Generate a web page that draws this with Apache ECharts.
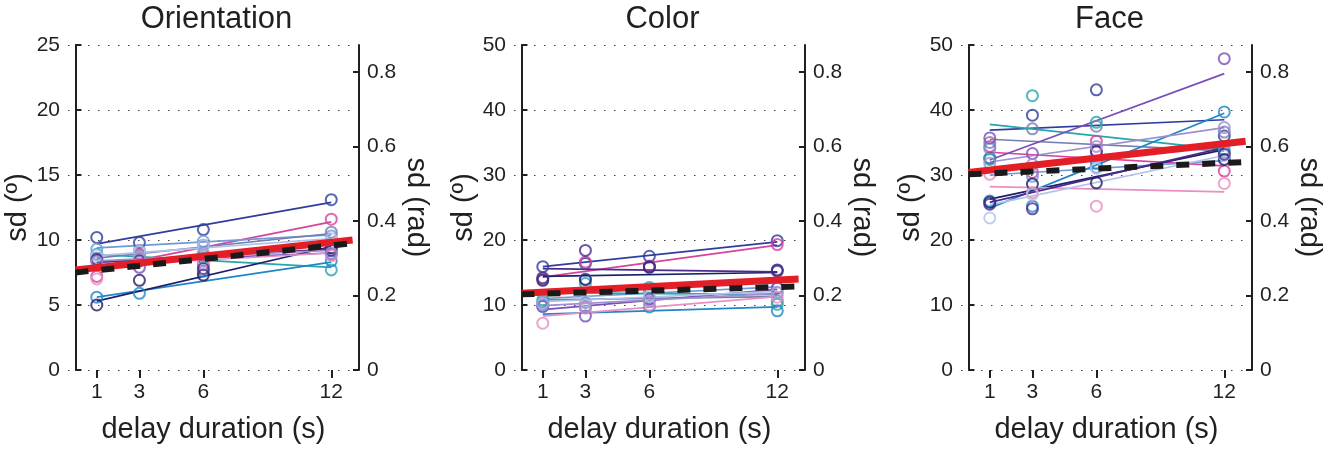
<!DOCTYPE html>
<html>
<head>
<meta charset="utf-8">
<script src="https://cdn.jsdelivr.net/npm/echarts@6/dist/echarts.min.js"></script>
<style>
html,body{margin:0;padding:0;background:#fff;}
#chart{width:1334px;height:449px;}
</style>
</head>
<body>
<div id="chart"></div>
<script>
// ---------- data ----------
const delays = [1, 3, 6, 12];
const fitX = [1, 12];
const groupX = [0, 13];
const panelTitles = ['Orientation', 'Color', 'Face'];
const xTicks = [1, 3, 6, 12];
const radTicks = [0, 0.2, 0.4, 0.6, 0.8];
const leftMax = [25, 50, 50];
const leftInterval = [5, 10, 10];
const radPerUnit = [Math.PI / 90, Math.PI / 180, Math.PI / 180];

const subjectColors = ['#2f3e9e', '#d6449c', '#6f9ad8', '#7480b0', '#26a5ad', '#1f86c8',
  '#1c1f6a', '#7b4fb8', '#e98fc2', '#b3c3e8', '#4b2a8c', '#9e8ed0'];

// Orientation: sd (deg) at delays 1,3,6,12 per subject
const oriPoints = [
  [10.2, 9.8, 10.8, 13.1],
  [7.2, 8.9, 8.8, 11.6],
  [9.3, 9.2, 9.9, 10.3],
  [8.6, 8.8, 9.6, 10.6],
  [8.9, 8.7, 8.6, 7.7],
  [5.6, 5.9, 7.6, 8.4],
  [5.0, 6.9, 7.3, 9.4],
  [8.4, 7.9, 8.1, 8.9],
  [7.0, 8.7, 8.3, 8.8],
  [8.8, 9.1, 9.6, 10.1],
  [8.5, 8.4, 7.8, 9.2],
  [8.3, 8.6, 9.0, 9.0]
];
const oriFits = [
  [9.7, 12.9], [7.8, 11.4], [9.4, 10.4], [8.6, 10.5], [8.9, 7.9], [5.6, 8.3],
  [5.3, 9.5], [8.3, 9.0], [8.0, 9.0], [8.8, 10.1], [8.3, 9.3], [8.4, 9.2]
];
const oriRed = [7.7, 10.0];
const oriBlack = [7.5, 9.75];

// Color
const colPoints = [
  [15.9, 16.4, 17.5, 19.9],
  [14.0, 16.6, 16.0, 19.3],
  [10.5, 14.0, 12.0, 12.6],
  [10.3, 10.4, 11.0, 10.6],
  [10.8, 13.3, 12.7, 10.1],
  [9.8, 9.6, 9.7, 9.1],
  [13.8, 13.9, 15.8, 15.4],
  [9.8, 8.3, 10.9, 12.6],
  [7.2, 9.5, 10.0, 11.2],
  [10.2, 10.6, 11.3, 12.0],
  [14.2, 18.4, 15.9, 15.2],
  [10.0, 9.8, 10.6, 11.9]
];
const colFits = [
  [15.9, 19.7], [14.3, 19.2], [11.0, 12.8], [10.8, 11.3], [11.9, 11.6], [8.6, 9.7],
  [14.4, 15.0], [9.3, 12.4], [8.3, 11.3], [10.5, 12.1], [15.6, 15.1], [9.9, 11.8]
];
const colRed = [11.8, 14.0];
const colBlack = [11.65, 12.85];

// Face
const facePoints = [
  [32.6, 39.2, 43.1, 36.0],
  [34.4, 30.4, 35.2, 30.6],
  [34.0, 29.8, 31.2, 33.5],
  [35.0, 37.1, 37.5, 36.6],
  [32.4, 42.2, 38.1, 33.9],
  [26.0, 25.2, 31.8, 39.7],
  [25.8, 28.6, 28.8, 32.4],
  [35.7, 33.3, 33.6, 47.9],
  [30.1, 27.3, 25.2, 28.7],
  [23.4, 27.0, 31.0, 33.0],
  [25.5, 24.8, 33.6, 33.2],
  [31.8, 31.6, 34.4, 37.3]
];
const faceFits = [
  [36.9, 38.5], [33.5, 31.4], [30.0, 32.2], [35.5, 33.7], [37.8, 33.9], [24.9, 39.5],
  [26.3, 33.9], [32.3, 45.6], [28.2, 27.4], [25.4, 33.0], [25.8, 34.2], [32.0, 37.3]
];
const faceRed = [30.4, 35.2];
const faceBlack = [30.1, 32.0];

const panelPoints = [oriPoints, colPoints, facePoints];
const panelFits = [oriFits, colFits, faceFits];
const panelRed = [oriRed, colRed, faceRed];
const panelBlack = [oriBlack, colBlack, faceBlack];

// ---------- layout / style ----------
const FONT = '"Liberation Sans", Arial, Helvetica, sans-serif';
const INK = '#231f20';
const gridLefts = [68, 514, 961];
const GW = 291, GT = 45, GH = 326;

const grids = [], xAxes = [], yAxes = [], titles = [], series = [];

for (let p = 0; p < 3; p++) {
  grids.push({ left: gridLefts[p], top: GT, width: GW, height: GH });
  titles.push({
    text: panelTitles[p], left: gridLefts[p] + GW / 2 + 3, top: 4, textAlign: 'center', padding: 0,
    textStyle: { fontFamily: FONT, fontSize: 31, fontWeight: 'normal', color: INK }
  });
  xAxes.push({
    gridIndex: p, type: 'value', min: -0.35, max: 13.3,
    axisLine: { show: false },
    axisTick: { show: true, customValues: xTicks, length: 8, inside: false, lineStyle: { color: INK, width: 2 } },
    axisLabel: { customValues: xTicks, margin: 12, fontFamily: FONT, fontSize: 21, color: INK },
    splitLine: { show: false },
    name: 'delay duration (s)', nameLocation: 'middle', nameGap: 45,
    nameTextStyle: { fontFamily: FONT, fontSize: 29, color: INK }
  });
  yAxes.push({
    gridIndex: p, type: 'value', position: 'left', min: 0, max: leftMax[p], interval: leftInterval[p],
    axisLine: { show: true, lineStyle: { color: INK, width: 2 } },
    axisTick: { show: true, inside: true, length: 6, lineStyle: { color: INK, width: 2 } },
    axisLabel: { margin: 8, fontFamily: FONT, fontSize: 21, color: INK },
    splitLine: { show: true, lineStyle: { color: '#444', width: 1, type: [1.5, 8.5] } },
    name: 'sd (º)', nameLocation: 'middle', nameRotate: 90, nameGap: 32,
    nameTextStyle: { fontFamily: FONT, fontSize: 29, color: INK }
  });
  yAxes.push({
    gridIndex: p, type: 'value', position: 'right', min: 0, max: leftMax[p] * radPerUnit[p],
    axisLine: { show: true, lineStyle: { color: INK, width: 2 } },
    axisTick: { show: true, inside: true, length: 6, customValues: radTicks, lineStyle: { color: INK, width: 2 } },
    axisLabel: { customValues: radTicks, margin: 8, fontFamily: FONT, fontSize: 21, color: INK },
    splitLine: { show: false },
    name: 'sd (rad)', nameLocation: 'middle', nameRotate: -90, nameGap: 42,
    nameTextStyle: { fontFamily: FONT, fontSize: 29, color: INK }
  });

  const yIdx = p * 2;
  const pts = panelPoints[p], fits = panelFits[p];
  for (let s = 0; s < pts.length; s++) {
    const c = subjectColors[s];
    series.push({
      type: 'line', xAxisIndex: p, yAxisIndex: yIdx, z: 2,
      data: fitX.map((x, i) => [x, fits[s][i]]),
      showSymbol: false, symbol: 'none', silent: true,
      lineStyle: { color: c, width: 1.7 }
    });
    series.push({
      type: 'scatter', xAxisIndex: p, yAxisIndex: yIdx, z: 3,
      data: delays.map((x, i) => [x, pts[s][i]]),
      symbol: 'circle', symbolSize: 11, silent: true,
      itemStyle: { color: 'rgba(0,0,0,0)', borderColor: c, borderWidth: 2 }
    });
  }
  series.push({
    type: 'line', xAxisIndex: p, yAxisIndex: yIdx, z: 5,
    data: groupX.map((x, i) => [x, panelRed[p][i]]),
    showSymbol: false, symbol: 'none', silent: true,
    lineStyle: { color: '#e41e26', width: 7, cap: 'butt' }
  });
  series.push({
    type: 'line', xAxisIndex: p, yAxisIndex: yIdx, z: 6,
    data: groupX.map((x, i) => [x, panelBlack[p][i]]),
    showSymbol: false, symbol: 'none', silent: true,
    lineStyle: { color: '#1a1a1a', width: 6, type: [13, 13], cap: 'butt' }
  });
}

const chart = echarts.init(document.getElementById('chart'), null, { renderer: 'canvas' });
chart.setOption({
  animation: false,
  backgroundColor: '#ffffff',
  title: titles,
  grid: grids,
  xAxis: xAxes,
  yAxis: yAxes,
  series: series
});
</script>
</body>
</html>
